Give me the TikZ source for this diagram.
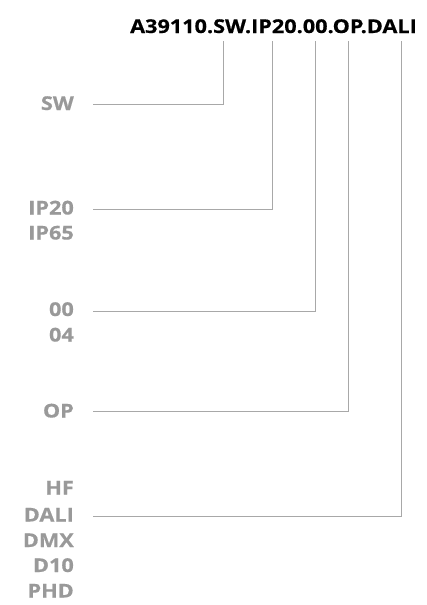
\documentclass[tikz,border=0pt]{standalone}
\usepackage{fontspec}
\setmainfont{Open Sans}
\newfontfamily\gfont[FakeStretch=1.14,FakeBold=0.6]{Open Sans}
\definecolor{lbl}{HTML}{999999}
\definecolor{ln}{HTML}{A8A8A8}
\begin{document}
\begin{tikzpicture}[x=1pt,y=-1pt,
  lab/.style={anchor=base east,inner sep=0pt,text=lbl,font=\gfont\fontsize{19}{19}\selectfont\bfseries},
  conn/.style={draw=ln,line width=1pt}]
\useasboundingbox (0,0) rectangle (427,605);
\node[anchor=base west,inner sep=0pt,font=\gfont\fontsize{19}{19}\selectfont\bfseries] (title) at (130,33) {A39110.SW.IP20.00.OP.DALI};
\node[lab] (sw) at (74,110) {SW};
\node[lab] (ip20) at (74,214.5) {IP20};
\node[lab] (ip65) at (74,239.5) {IP65};
\node[lab] (c00) at (74,316) {00};
\node[lab] (c04) at (74,341.5) {04};
\node[lab] (op) at (74,417.5) {OP};
\node[lab] (hf) at (74,494.5) {HF};
\node[lab] (dali) at (74,521.5) {DALI};
\node[lab] (dmx) at (74,547) {DMX};
\node[lab] (d10) at (74,572) {D10};
\node[lab] (phd) at (74,597.5) {PHD};
\coordinate (t1) at (223.3,41);
\coordinate (t2) at (272.3,41);
\coordinate (t3) at (315,41);
\coordinate (t4) at (348.3,41);
\coordinate (t5) at (401,41);
\coordinate (s1) at (93,104.3);
\coordinate (s2) at (93,209);
\coordinate (s3) at (93,311.7);
\coordinate (s4) at (93,411);
\coordinate (s5) at (93,516);
\draw[conn] (s1) -| (t1);
\draw[conn] (s2) -| (t2);
\draw[conn] (s3) -| (t3);
\draw[conn] (s4) -| (t4);
\draw[conn] (s5) -| (t5);
\end{tikzpicture}
\end{document}
